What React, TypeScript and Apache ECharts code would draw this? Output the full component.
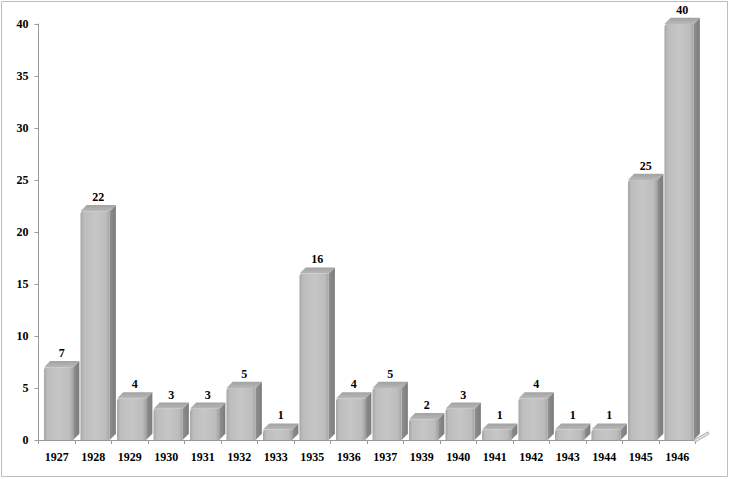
import React, { useEffect, useRef } from "react";
import * as echarts from "echarts";

const categories = ["1927","1928","1929","1930","1931","1932","1933","1935","1936","1937","1939","1940","1941","1942","1943","1944","1945","1946"];
const values = [7, 22, 4, 3, 3, 5, 1, 16, 4, 5, 2, 3, 1, 4, 1, 1, 25, 40];
const yTicks = { min: 0, max: 40, interval: 5 };

const FONT = "'Liberation Serif', 'Times New Roman', serif";

export default function App() {
  const ref = useRef<HTMLDivElement>(null);
  useEffect(() => {
    const chart = echarts.init(ref.current!, null, { renderer: "svg" });
    const renderBar = (params: any, api: any) => {
      const idx = api.value(0);
      const v = api.value(1);
      const top = api.coord([idx, v]);
      const base = api.coord([idx, 0]);
      const bw = api.size([1, 0])[0];
      const x0 = top[0] - bw / 2 + bw * 0.15;
      const w = bw * 0.8;
      const d = bw * 0.17;
      const yT = top[1];
      const yB = base[1];
      const r = Math.min(3, Math.max(0, (yB - yT) / 2));
      return {
        type: "group",
        children: [
          {
            type: "polygon",
            shape: { points: [[x0 + w, yT], [x0 + w + d, yT - d], [x0 + w + d, yB - d], [x0 + w, yB]] },
            style: {
              fill: new echarts.graphic.LinearGradient(0, 0, 1, 0, [
                { offset: 0, color: "#8f8f8f" },
                { offset: 1, color: "#7c7c7c" },
              ]),
            },
          },
          {
            type: "polygon",
            shape: { points: [[x0, yT], [x0 + d, yT - d], [x0 + w + d, yT - d], [x0 + w, yT]] },
            style: {
              fill: new echarts.graphic.LinearGradient(0, 1, 0, 0, [
                { offset: 0, color: "#b8b8b8" },
                { offset: 1, color: "#a2a2a2" },
              ]),
            },
          },
          {
            type: "rect",
            shape: { x: x0, y: yT, width: w, height: yB - yT, r: [r, 0, 0, 0] },
            style: {
              fill: new echarts.graphic.LinearGradient(0, 0, 1, 0, [
                { offset: 0, color: "#a6a6a6" },
                { offset: 0.12, color: "#bdbdbd" },
                { offset: 0.5, color: "#c6c6c6" },
                { offset: 0.88, color: "#bcbcbc" },
                { offset: 1, color: "#a2a2a2" },
              ]),
            },
          },
          {
            type: "text",
            x: x0 + w / 2 + d / 2,
            y: yT - d - 2,
            style: {
              text: String(v),
              fill: "#000",
              font: `bold 12px ${FONT}`,
              align: "center",
              verticalAlign: "bottom",
            },
          },
        ],
      };
    };
    const renderFloor = (params: any, api: any) => {
      const bw = api.size([1, 0])[0];
      const left = api.coord([0, 0]);
      const right = api.coord([categories.length - 1, 0]);
      const R = right[0] + bw / 2;
      const y0 = left[1];
      const d = bw * 0.17;
      return {
        type: "group",
        children: [
          {
            type: "polygon",
            shape: { points: [[R - 2, y0], [R + 2 * d, y0 - 1.3 * d], [R + 2 * d + 1, y0 - 1.3 * d + 2], [R, y0 + 2]] },
            style: { fill: "#e4e4e4", stroke: "#9a9a9a", lineWidth: 0.8 },
          },
        ],
      };
    };
    chart.setOption({
      animation: false,
      backgroundColor: "#ffffff",
      graphic: [
        {
          type: "rect",
          shape: { x: 1.5, y: 1.5, width: 726, height: 475 },
          style: { fill: "none", stroke: "#bdbdbd", lineWidth: 1 },
          silent: true,
        },
      ],
      grid: { left: 38.5, right: 34.5, top: 24, bottom: 39 },
      xAxis: {
        type: "category",
        data: categories,
        axisLine: { show: true, lineStyle: { color: "#9a9a9a", width: 1 } },
        axisTick: { show: true, length: 4, lineStyle: { color: "#9a9a9a" } },
        axisLabel: { color: "#000", fontFamily: FONT, fontWeight: "bold", fontSize: 12, margin: 11 },
        splitLine: { show: false },
      },
      yAxis: {
        type: "value",
        min: yTicks.min,
        max: yTicks.max,
        interval: yTicks.interval,
        axisLine: { show: true, lineStyle: { color: "#9a9a9a", width: 1 } },
        axisTick: { show: true, length: 4, lineStyle: { color: "#9a9a9a" } },
        axisLabel: { color: "#000", fontFamily: FONT, fontWeight: "bold", fontSize: 12, margin: 10 },
        splitLine: { show: false },
      },
      series: [
        {
          type: "custom",
          renderItem: renderFloor,
          data: [[0, 0]],
          encode: { x: 0, y: 1 },
          silent: true,
          z: 1,
        },
        {
          type: "custom",
          renderItem: renderBar,
          data: values.map((v, i) => [i, v]),
          encode: { x: 0, y: 1 },
          z: 2,
        },
      ],
    });
    return () => chart.dispose();
  }, []);
  return (
    <div
      ref={ref}
      style={{ position: "fixed", left: 0, top: 0, width: 730, height: 479 }}
    />
  );
}
